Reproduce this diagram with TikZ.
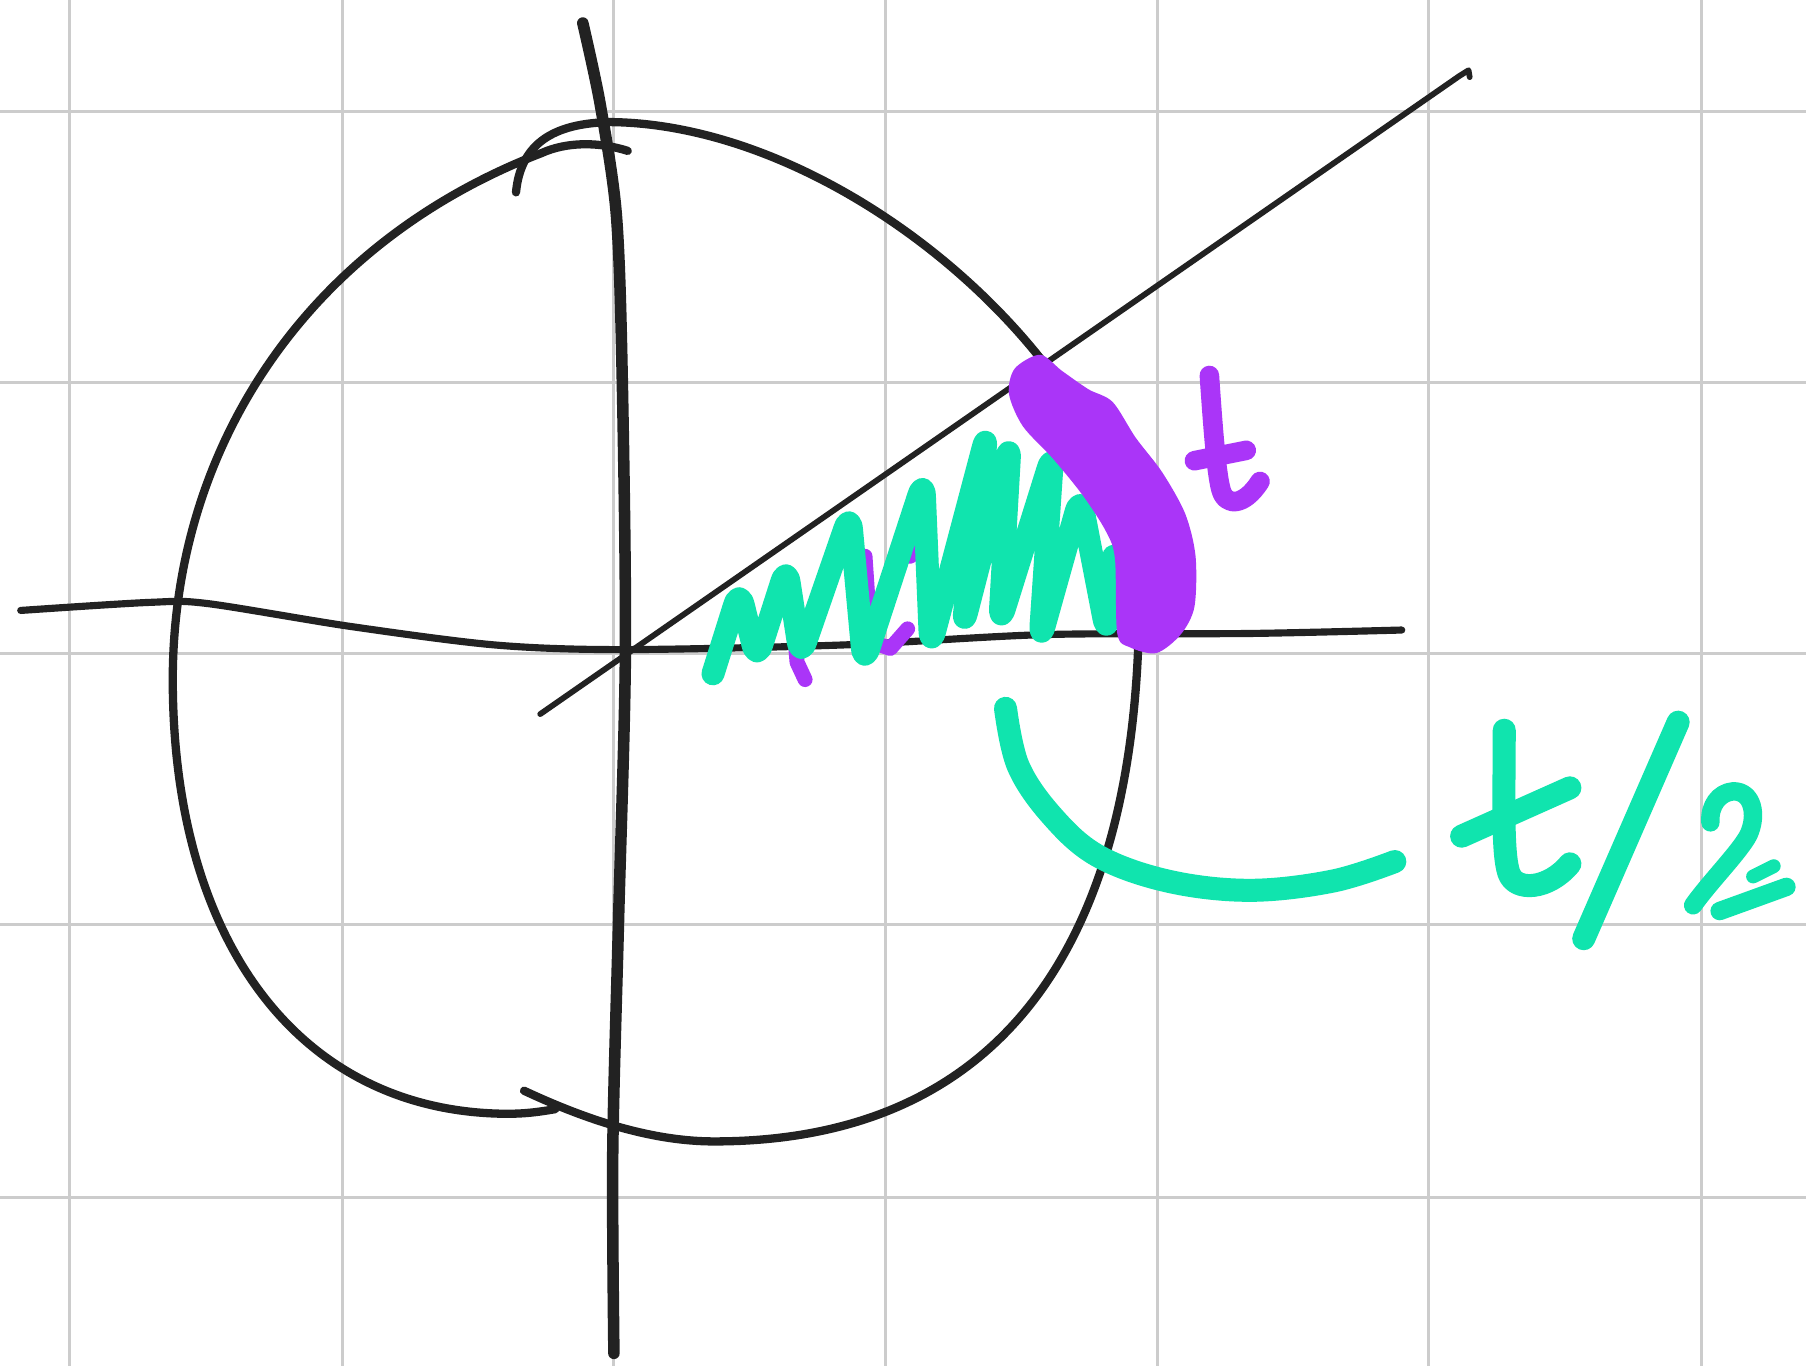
\documentclass[tikz,border=0pt]{standalone}
\usepackage{tikz}
\definecolor{gridgray}{HTML}{CCCCCC}
\definecolor{ink}{HTML}{222222}
\definecolor{violetpen}{HTML}{AA35F8}
\definecolor{mintpen}{HTML}{10E4AE}
\tikzset{
  gridline/.style={gridgray, line width=1.3pt},
  blackpen/.style={ink, line width=3.6pt, line cap=round, line join=round},
  thinpen/.style={ink, line width=2.5pt, line cap=round, line join=round},
  axispen/.style={ink, line width=5pt, line cap=round, line join=round},
  greenpen/.style={mintpen, line width=10pt, line cap=round, line join=round},
  purplepen/.style={violetpen, line width=8.5pt, line cap=round, line join=round},
}
\begin{document}
\begin{tikzpicture}[x=0.5pt,y=-0.5pt]
\fill[white] (0,0) rectangle (1568,1186);
\useasboundingbox (0,0) rectangle (1568,1186);
% grid
\foreach \gx in {60,297,533,769,1005,1240,1477} \draw[gridline] (\gx,0) -- (\gx,1186);
\foreach \gy in {97,332,567,803,1040} \draw[gridline] (0,\gy) -- (1568,\gy);
% circle, left stroke
\coordinate (cl0) at (545,131);
\coordinate (cl1) at (470,133);
\coordinate (cl2) at (150,590);
\coordinate (cl3) at (440,967);
\coordinate (cl4) at (482,963);
\draw[blackpen] (cl0) .. controls (520,123) and (492,123) .. (cl1)
  .. controls (265,212) and (150,390) .. (cl2)
  .. controls (150,820) and (262,966) .. (cl3)
  .. controls (458,967) and (470,965) .. (cl4);
% circle, right stroke
\coordinate (cr0) at (448,167);
\coordinate (cr1) at (530,106);
\coordinate (cr2) at (989,520);
\coordinate (cr3) at (620,991);
\coordinate (cr4) at (455,947);
\draw[blackpen] (cr0) .. controls (452,125) and (480,107) .. (cr1)
  .. controls (740,108) and (989,330) .. (cr2)
  .. controls (989,825) and (865,991) .. (cr3)
  .. controls (560,991) and (500,968) .. (cr4);
% horizontal axis
\draw[blackpen, line width=3.1pt] plot[smooth,tension=0.5] coordinates {(18,530) (130,523) (180,524) (305,544) (430,560) (540,564) (731,560) (906,551) (1085,550) (1217,547)};
% vertical axis
\draw[axispen] plot[smooth,tension=0.5] coordinates {(506,20) (521,90) (535,185) (540,317) (543,564) (537,800) (532,1000) (533,1175)};
% diagonal line with hook
\coordinate (diagA) at (469,620);
\coordinate (diagB) at (1267,66);
\draw[thinpen] (diagA) -- (diagB) -- (1275,61) -- (1276,67);
% small purple t under hatching
\draw[purplepen, line width=6.5pt] (686,505) -- (692,575) -- (699,590);
\draw[purplepen, line width=6.5pt] (751,483) -- (756,557) -- (773,563) -- (788,546);
\draw[purplepen, line width=6.5pt] (790,483) -- (802,475);
% green hatching
\draw[greenpen, rounded corners=7pt] (619,585) -- (642,512) -- (657,573) -- (683,492) -- (695,570) -- (738,446) -- (750,576) -- (802,417) -- (808,561) -- (857,376) -- (836,544) -- (877,385) -- (868,541) -- (914,394) -- (903,556) -- (938,431) -- (961,550) -- (967,483);
% purple arc (brush blob)
\fill[violetpen] plot[smooth cycle,tension=0.5] coordinates {(881,320) (903,308) (922,322) (945,338) (966,349) (986,380) (1009,410) (1029,446) (1038,483) (1037,527) (1025,551) (1004,567) (981,562) (970,550) (968,485) (960,461) (940,430) (914,398) (888,370) (876,342)};
% purple t label
\draw[purplepen] (1050,326) .. controls (1053,370) and (1056,410) .. (1060,425) .. controls (1064,440) and (1080,440) .. (1094,418);
\draw[purplepen] (1037,400) -- (1082,391);
% green curve
\draw[greenpen] plot[smooth,tension=0.6] coordinates {(873,615) (884,665) (913,708) (953,743) (1014,765) (1085,773) (1157,765) (1211,748)};
% green t/2
\draw[greenpen] (1306,634) .. controls (1306,690) and (1304,740) .. (1310,758) .. controls (1316,775) and (1345,772) .. (1363,750);
\draw[greenpen] (1269,726) -- (1363,684);
\draw[greenpen] (1457,627) -- (1375,815);
\draw[greenpen, line width=8pt] (1485,714) .. controls (1484,700) and (1492,688) .. (1505,687) .. controls (1522,687) and (1526,708) .. (1518,725) .. controls (1510,740) and (1485,765) .. (1470,786);
\draw[greenpen, line width=8pt] (1493,791) -- (1551,770);
\draw[greenpen, line width=6pt] (1522,761) -- (1540,752);
\end{tikzpicture}
\end{document}
